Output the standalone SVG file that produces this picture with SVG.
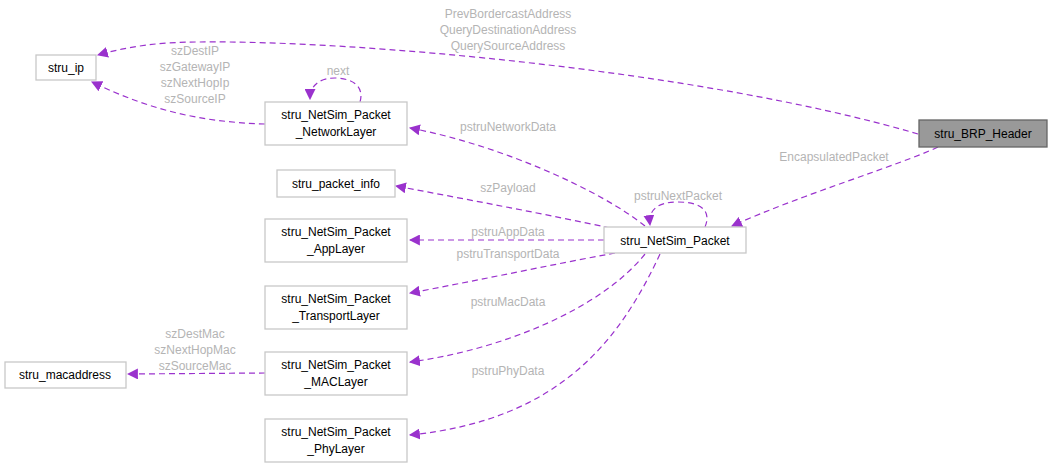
<svg xmlns="http://www.w3.org/2000/svg" width="1052" height="468" viewBox="0 0 1052 468">
<style>
.n rect{fill:#fff;stroke:#c8c8c8;stroke-width:1.3}
.n text,.l{font-family:"Liberation Sans",Arial,sans-serif;font-size:12px}
.n text{fill:#000;text-anchor:middle}
.l{fill:#b4b4b4;text-anchor:middle}
.e{fill:none;stroke:#9a32cd;stroke-width:1.2;stroke-dasharray:6,4}
</style>
<defs><marker id="a" viewBox="0 0 10 10" refX="9" refY="5" markerWidth="11" markerHeight="11" markerUnits="userSpaceOnUse" orient="auto"><path d="M0,0L10,5L0,10z" fill="#9a32cd"/></marker></defs>
<rect width="1052" height="468" fill="#fff"/>
<g id="connectors">
<path class="e" marker-end="url(#a)" d="M938,147C900,165 800,195 732,226"/>
<path class="e" marker-end="url(#a)" d="M918,134C700,70 350,40 200,42C160,42 130,46 98,55"/>
<path class="e" marker-end="url(#a)" d="M265,124C200,122 150,110 92,82"/>
<path class="e" marker-end="url(#a)" d="M360,102C365,85 350,78 335,78C320,78 310,85 310,99"/>
<path class="e" marker-end="url(#a)" d="M645,226C600,190 500,145 410,128"/>
<path class="e" marker-end="url(#a)" d="M705,227C712,210 700,202 678,202C660,202 648,208 650,225"/>
<path class="e" marker-end="url(#a)" d="M610,228C550,215 470,200 396,186"/>
<path class="e" marker-end="url(#a)" d="M604,240L410,240"/>
<path class="e" marker-end="url(#a)" d="M615,253C550,265 480,280 410,293"/>
<path class="e" marker-end="url(#a)" d="M645,254C600,310 500,350 410,362"/>
<path class="e" marker-end="url(#a)" d="M660,254C620,340 560,420 410,435"/>
<path class="e" marker-end="url(#a)" d="M265,373L128,374"/>
</g>
<g id="labels">
<text class="l" x="508" y="18">PrevBordercastAddress</text>
<text class="l" x="508" y="34">QueryDestinationAddress</text>
<text class="l" x="508" y="50">QuerySourceAddress</text>
<text class="l" x="195" y="55">szDestIP</text>
<text class="l" x="195" y="71">szGatewayIP</text>
<text class="l" x="195" y="87">szNextHopIp</text>
<text class="l" x="195" y="103">szSourceIP</text>
<text class="l" x="338" y="75">next</text>
<text class="l" x="508" y="131">pstruNetworkData</text>
<text class="l" x="834" y="161">EncapsulatedPacket</text>
<text class="l" x="678" y="200">pstruNextPacket</text>
<text class="l" x="508" y="192">szPayload</text>
<text class="l" x="508" y="236">pstruAppData</text>
<text class="l" x="508" y="258">pstruTransportData</text>
<text class="l" x="508" y="306">pstruMacData</text>
<text class="l" x="508" y="375">pstruPhyData</text>
<text class="l" x="195" y="338">szDestMac</text>
<text class="l" x="195" y="354">szNextHopMac</text>
<text class="l" x="195" y="370">szSourceMac</text>
</g>
<g id="stru_ip" class="n"><rect x="36" y="55" width="60" height="25"/><text x="66" y="72">stru_ip</text></g>
<g id="network" class="n"><rect x="265" y="102" width="142" height="43"/><text x="336" y="119">stru_NetSim_Packet</text><text x="336" y="136">_NetworkLayer</text></g>
<g id="brp" class="n"><rect x="919" y="120" width="128" height="27" style="fill:#999;stroke:#666"/><text x="983" y="138">stru_BRP_Header</text></g>
<g id="packet_info" class="n"><rect x="277" y="170" width="118" height="27"/><text x="336" y="188">stru_packet_info</text></g>
<g id="app" class="n"><rect x="265" y="219" width="142" height="43"/><text x="336" y="236">stru_NetSim_Packet</text><text x="336" y="253">_AppLayer</text></g>
<g id="packet" class="n"><rect x="604" y="227" width="142" height="26"/><text x="675" y="245">stru_NetSim_Packet</text></g>
<g id="transport" class="n"><rect x="265" y="286" width="142" height="43"/><text x="336" y="303">stru_NetSim_Packet</text><text x="336" y="320">_TransportLayer</text></g>
<g id="mac" class="n"><rect x="265" y="352" width="142" height="43"/><text x="336" y="369">stru_NetSim_Packet</text><text x="336" y="386">_MACLayer</text></g>
<g id="macaddr" class="n"><rect x="5" y="362" width="121" height="26"/><text x="65" y="379">stru_macaddress</text></g>
<g id="phy" class="n"><rect x="265" y="419" width="142" height="43"/><text x="336" y="436">stru_NetSim_Packet</text><text x="336" y="453">_PhyLayer</text></g>
</svg>
